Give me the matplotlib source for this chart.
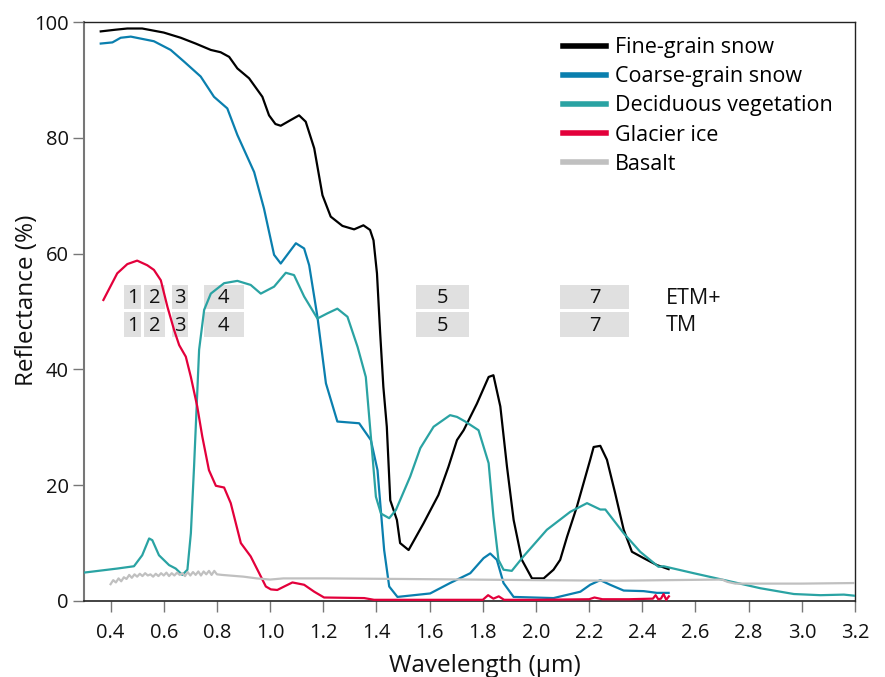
import matplotlib
matplotlib.use("Agg")
import matplotlib.pyplot as plt
from matplotlib.patches import Rectangle

plt.rcParams["font.family"] = ["Open Sans", "DejaVu Sans"]

# Fine-grain snow
fine_wl = [0.363, 0.42, 0.463, 0.519, 0.60, 0.664, 0.72, 0.777, 0.814, 0.846, 0.877, 0.921,
           0.971, 0.996, 1.020, 1.040, 1.078, 1.109, 1.134, 1.166, 1.197, 1.228, 1.272,
           1.316, 1.351, 1.376, 1.389, 1.402, 1.414, 1.426, 1.439, 1.452, 1.477, 1.489,
           1.521, 1.577, 1.633, 1.671, 1.703, 1.728, 1.778, 1.822, 1.840, 1.866, 1.891,
           1.916, 1.947, 1.985, 2.029, 2.066, 2.091, 2.117, 2.154, 2.204, 2.217, 2.242,
           2.267, 2.298, 2.330, 2.361, 2.405, 2.455, 2.499]
fine_val = [98.4, 98.7, 98.9, 98.9, 98.2, 97.3, 96.3, 95.2, 94.8, 94.0, 92.0, 90.3,
            87.1, 83.9, 82.4, 82.1, 83.1, 83.9, 82.8, 78.2, 70.1, 66.4, 64.8,
            64.2, 64.9, 64.1, 62.3, 56.6, 46.3, 37.0, 30.1, 17.4, 14.0, 10.0,
            8.8, 13.4, 18.3, 23.2, 27.8, 29.5, 34.1, 38.7, 39.0, 33.6, 23.2,
            14.0, 7.1, 3.9, 3.9, 5.4, 7.1, 11.1, 16.3, 24.4, 26.6, 26.8,
            24.4, 18.6, 12.3, 8.5, 7.4, 6.2, 5.5]

# Coarse-grain snow
coarse_wl = [0.363, 0.407, 0.438, 0.476, 0.563, 0.626, 0.676, 0.739, 0.789, 0.839, 0.877,
             0.940, 0.977, 1.015, 1.040, 1.097, 1.128, 1.147, 1.178, 1.210, 1.253, 1.335,
             1.379, 1.404, 1.429, 1.448, 1.479, 1.602, 1.677, 1.753, 1.803, 1.828, 1.853,
             1.878, 1.916, 2.066, 2.167, 2.204, 2.242, 2.279, 2.330, 2.405, 2.455, 2.499]
coarse_val = [96.3, 96.5, 97.3, 97.5, 96.7, 95.2, 93.2, 90.6, 87.1, 85.1, 80.5,
              74.1, 67.8, 59.8, 58.3, 61.8, 60.9, 58.0, 49.1, 37.6, 31.0, 30.7,
              27.8, 22.6, 8.8, 2.5, 0.7, 1.3, 3.1, 4.8, 7.4, 8.2, 7.1,
              3.1, 0.7, 0.5, 1.6, 2.8, 3.6, 2.8, 1.8, 1.7, 1.4, 1.4]

# Deciduous vegetation
veg_wl = [0.30, 0.425, 0.488, 0.519, 0.545, 0.557, 0.582, 0.620, 0.645, 0.670, 0.689, 0.702,
          0.714, 0.733, 0.752, 0.777, 0.827, 0.877, 0.927, 0.965, 1.015, 1.059, 1.090,
          1.128, 1.178, 1.216, 1.253, 1.291, 1.329, 1.360, 1.379, 1.398, 1.417, 1.448,
          1.473, 1.527, 1.565, 1.615, 1.677, 1.703, 1.734, 1.784, 1.822, 1.840, 1.859,
          1.878, 1.909, 1.953, 2.041, 2.129, 2.192, 2.242, 2.261, 2.330, 2.392, 2.461,
          2.480, 2.593, 2.719, 2.844, 2.970, 3.070, 3.158, 3.20]
veg_val = [4.9, 5.6, 6.0, 7.9, 10.8, 10.5, 7.9, 6.2, 5.6, 4.5, 5.4, 11.7,
           23.2, 43.4, 50.3, 53.1, 54.9, 55.3, 54.6, 53.1, 54.3, 56.7, 56.3,
           52.6, 48.8, 49.7, 50.5, 49.1, 43.9, 38.7, 28.4, 18.0, 15.1, 14.3,
           15.7, 21.5, 26.4, 30.1, 32.1, 31.8, 31.0, 29.5, 23.8, 14.6, 7.1,
           5.4, 5.2, 7.7, 12.3, 15.4, 16.9, 15.8, 15.8, 11.7, 8.5, 5.9,
           6.0, 4.8, 3.5, 2.2, 1.2, 1.0, 1.1, 0.9]

# Glacier ice
ice_wl = [0.373, 0.425, 0.463, 0.500, 0.538, 0.563, 0.589, 0.614, 0.639, 0.658, 0.683,
          0.702, 0.726, 0.745, 0.770, 0.796, 0.827, 0.852, 0.890, 0.927, 0.959, 0.984,
          1.003, 1.027, 1.053, 1.084, 1.128, 1.166, 1.203, 1.354, 1.391, 1.414, 1.60,
          1.80, 1.82, 1.84, 1.86, 1.88, 2.00, 2.20, 2.22, 2.25, 2.35, 2.44, 2.45, 2.46,
          2.47, 2.48, 2.49, 2.50]
ice_val = [52.0, 56.6, 58.2, 58.8, 58.0, 57.2, 55.4, 50.8, 46.8, 44.2, 42.2,
           38.7, 33.6, 28.4, 22.6, 19.9, 19.6, 16.9, 10.0, 7.7, 4.8, 2.5,
           2.0, 1.9, 2.5, 3.2, 2.8, 1.6, 0.6, 0.5, 0.2, 0.2, 0.2,
           0.2, 1.0, 0.4, 0.8, 0.2, 0.2, 0.3, 0.6, 0.3, 0.3, 0.4, 1.0, 0.3,
           0.4, 1.2, 0.2, 0.8]

# Basalt
basalt_wl = [0.40, 0.41, 0.42, 0.43, 0.44, 0.45, 0.46, 0.47, 0.48, 0.49, 0.50, 0.51,
             0.52, 0.53, 0.54, 0.55, 0.56, 0.57, 0.58, 0.59, 0.60, 0.61, 0.62, 0.63,
             0.64, 0.65, 0.66, 0.67, 0.68, 0.69, 0.70, 0.71, 0.72, 0.73, 0.74, 0.75,
             0.76, 0.77, 0.78, 0.79, 0.80, 0.82, 0.90, 0.95, 1.00, 1.05, 1.20, 1.50,
             2.00, 2.30, 2.50, 2.70, 2.72, 2.75, 3.00, 3.20]
basalt_val = [2.9, 3.6, 3.2, 3.9, 3.4, 4.1, 3.8, 4.5, 4.0, 4.6, 4.2, 4.7,
              4.3, 4.8, 4.4, 4.6, 4.2, 4.7, 4.3, 4.8, 4.4, 4.9, 4.3, 4.8,
              4.4, 4.9, 4.5, 4.8, 4.3, 5.0, 4.4, 5.0, 4.5, 5.1, 4.4, 5.1,
              4.6, 5.2, 4.5, 5.2, 4.6, 4.5, 4.2, 3.9, 3.7, 3.9, 3.9, 3.8,
              3.6, 3.5, 3.6, 3.7, 3.3, 3.0, 3.0, 3.1]

series = [
    ("Fine-grain snow", fine_wl, fine_val, "#000000"),
    ("Coarse-grain snow", coarse_wl, coarse_val, "#0a7fae"),
    ("Deciduous vegetation", veg_wl, veg_val, "#2aa3a3"),
    ("Glacier ice", ice_wl, ice_val, "#e3003b"),
    ("Basalt", basalt_wl, basalt_val, "#c0c0c0"),
]

# Landsat bands (label, start, end)
band_labels = ["1", "2", "3", "4", "5", "7"]
etm_bands = [(0.45, 0.515), (0.525, 0.605), (0.63, 0.69), (0.75, 0.90), (1.55, 1.75), (2.09, 2.35)]
tm_bands = [(0.45, 0.515), (0.525, 0.605), (0.63, 0.69), (0.75, 0.90), (1.55, 1.75), (2.09, 2.35)]
sensor_rows = [("ETM+", etm_bands, 50.4, 54.6), ("TM", tm_bands, 45.6, 49.9)]

fig = plt.figure(figsize=(8.85, 6.77), dpi=100)
ax = fig.add_axes([0.0949, 0.1123, 0.8712, 0.855])

for sensor, bands, y0, y1 in sensor_rows:
    for lab, (b0, b1) in zip(band_labels, bands):
        ax.add_patch(Rectangle((b0, y0), b1 - b0, y1 - y0, facecolor="#e0e0e0",
                               edgecolor="none", zorder=1))
        ax.text((b0 + b1) / 2, (y0 + y1) / 2 - 0.2, lab, ha="center", va="center",
                fontsize=14.5, color="#111111", zorder=2)
    ax.text(2.49, (y0 + y1) / 2 - 0.2, sensor, ha="left", va="center", fontsize=15.5,
            color="#111111")

for nom, wl, val, col in series:
    ax.plot(wl, val, color=col, linewidth=1.6, label=nom, zorder=3)

ax.set_xlim(0.3, 3.2)
ax.set_ylim(0, 100)
ax.set_xticks([0.4 + 0.2 * i for i in range(15)])
ax.set_xticklabels(["%.1f" % (0.4 + 0.2 * i) for i in range(15)])
ax.set_yticks([0, 20, 40, 60, 80, 100])
ax.tick_params(axis="both", direction="out", length=8, width=1, color="#777777",
               labelsize=14.5, labelcolor="#111111")
ax.tick_params(axis="x", pad=8)
ax.tick_params(axis="y", pad=3)

for s in ["top", "right", "bottom"]:
    ax.spines[s].set_color("#222222")
    ax.spines[s].set_linewidth(1.0)
ax.spines["bottom"].set_linewidth(1.2)
ax.spines["left"].set_color("#777777")
ax.spines["left"].set_linewidth(1.5)

ax.set_xlabel("Wavelength (µm)", fontsize=17.5, color="#111111")
ax.xaxis.set_label_coords(0.52, -0.091)
ax.set_ylabel("Reflectance (%)", fontsize=17.5, color="#111111")
ax.yaxis.set_label_coords(-0.058, 0.52)

leg = ax.legend(loc="upper left", bbox_to_anchor=(0.610, 0.989), frameon=False,
                fontsize=15.5, handlelength=2.0, handletextpad=0.4, labelspacing=0.38,
                borderaxespad=0.0, borderpad=0.4)
for line in leg.get_lines():
    line.set_linewidth(4)

fig.savefig("out.png", dpi=100)
